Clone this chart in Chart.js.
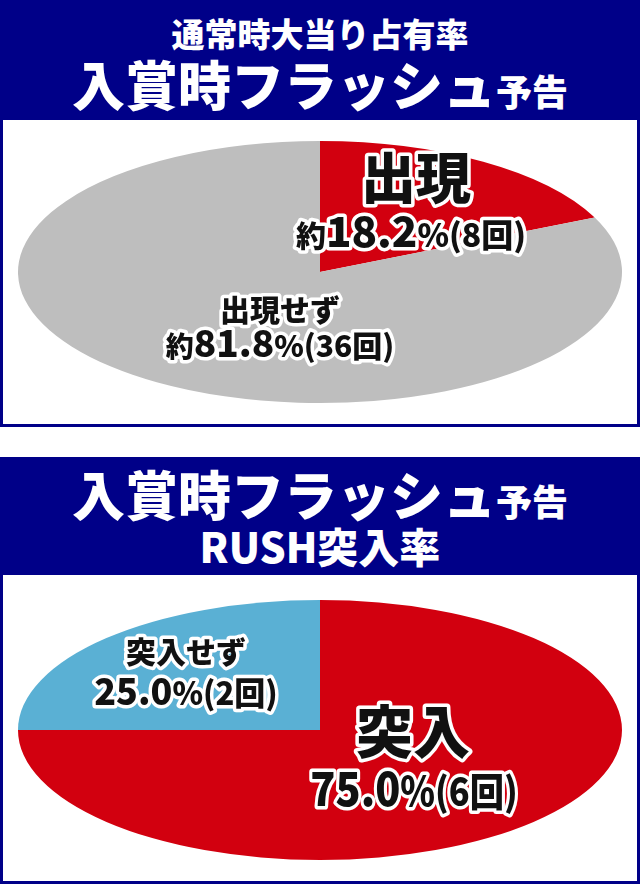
<!DOCTYPE html>
<html><head><meta charset="utf-8">
<script src="https://cdn.jsdelivr.net/npm/chart.js@4.4.1/dist/chart.umd.min.js"></script>
<style>
html,body{margin:0;padding:0;background:#fff;}
body{width:640px;height:884px;position:relative;overflow:hidden;font-family:"Noto Sans CJK JP","Noto Sans",sans-serif;}
.hdr{position:absolute;left:0;width:640px;background:#000088;}
.box{position:absolute;left:0;width:640px;box-sizing:border-box;border:3px solid #000088;border-top:none;background:#fff;}
.line{position:absolute;left:0;width:640px;text-align:center;white-space:nowrap;line-height:1;color:#fff;font-weight:900;}
canvas{position:absolute;left:0;}
</style></head>
<body>
<div class="hdr" style="top:0;height:120px"></div>
<div class="line" style="top:17px;font-size:33px">通常時大当り占有率</div>
<div class="line" style="top:57px;font-size:53px">入賞時フラッシュ<span style="font-size:36px">予告</span></div>
<div class="box" style="top:120px;height:307px"></div>
<canvas id="c1" width="640" height="307" style="top:120px"></canvas>

<div class="hdr" style="top:457px;height:118px"></div>
<div class="line" style="top:467px;font-size:53px">入賞時フラッシュ<span style="font-size:36px">予告</span></div>
<div class="line" style="top:525px;font-size:41px">RUSH突入率</div>
<div class="box" style="top:575px;height:309px"></div>
<canvas id="c2" width="640" height="309" style="top:575px"></canvas>

<script>
// ---- data ----
const categories1 = ['出現', '出現せず'];
const counts1 = [8, 36];
const colors1 = ['#D2000F', '#BEBEBE'];

const categories2 = ['突入', '突入せず'];
const counts2 = [6, 2];
const colors2 = ['#D2000F', '#5AB0D4'];

const unit = '回';

function pct(values, i) {
  const s = values.reduce((a, b) => a + b, 0);
  return (values[i] / s * 100).toFixed(1);
}

const FONT = '"Noto Sans CJK JP","Noto Sans",sans-serif';

const ellipsePlugin = {
  id: 'ellipse',
  beforeDatasetsDraw(chart, args, opts) {
    const arc = chart.getDatasetMeta(0).data[0];
    const cx = arc.x, cy = arc.y, r = arc.outerRadius;
    const ctx = chart.ctx;
    ctx.save();
    ctx.translate(cx, cy);
    ctx.scale(opts.rx / r, 1);
    ctx.translate(-cx, -cy);
  },
  afterDatasetsDraw(chart) { chart.ctx.restore(); }
};

const labelPlugin = {
  id: 'labels',
  afterDraw(chart, args, opts) {
    const ctx = chart.ctx;
    const top = opts.offset;
    ctx.save();
    ctx.textBaseline = 'alphabetic';
    ctx.lineJoin = 'round';
    const laid = opts.lines.map(ln => {
      let w = 0;
      const parts = ln.runs.map(r => {
        ctx.font = '900 ' + r.s + 'px ' + FONT;
        const m = ctx.measureText(r.t).width;
        const p = { t: r.t, s: r.s, w: m };
        w += m;
        return p;
      });
      return { ln, parts, w };
    });
    ['stroke', 'fill'].forEach(mode => {
      laid.forEach(({ ln, parts, w }) => {
        const k = ln.k || 1;
        ctx.save();
        ctx.translate(ln.x, ln.y - top);
        ctx.scale(k, 1);
        let x = -w / 2;
        parts.forEach(p => {
          ctx.font = '900 ' + p.s + 'px ' + FONT;
          if (mode === 'stroke') {
            ctx.strokeStyle = '#fff';
            ctx.lineWidth = 7;
            ctx.strokeText(p.t, x, 0);
          } else {
            ctx.fillStyle = '#111';
            ctx.fillText(p.t, x, 0);
          }
          x += p.w;
        });
        ctx.restore();
      });
    });
    ctx.restore();
  }
};

function makeChart(id, cats, vals, cols, pad, rx, lines, offset) {
  return new Chart(document.getElementById(id), {
    type: 'pie',
    data: { labels: cats, datasets: [{ data: vals, backgroundColor: cols, borderWidth: 0 }] },
    options: {
      responsive: false,
      animation: false,
      events: [],
      layout: { padding: pad },
      plugins: {
        legend: { display: false },
        tooltip: { enabled: false },
        ellipse: { rx: rx },
        labels: { lines: lines, offset: offset }
      }
    },
    plugins: [ellipsePlugin, labelPlugin]
  });
}

const lines1 = [
  { x: 416, y: 198, runs: [{ t: categories1[0], s: 55 }] },
  { x: 411, y: 247, runs: [{ t: '約', s: 30 }, { t: pct(counts1, 0), s: 42 }, { t: '%', s: 32 }, { t: '(' + counts1[0] + unit + ')', s: 32 }] },
  { x: 280, y: 321, runs: [{ t: categories1[1], s: 30 }] },
  { x: 280, y: 357, runs: [{ t: '約', s: 28 }, { t: pct(counts1, 1), s: 37 }, { t: '%', s: 30 }, { t: '(' + counts1[1] + unit + ')', s: 30 }] }
];
const lines2 = [
  { x: 186, y: 663, runs: [{ t: categories2[1], s: 30 }] },
  { x: 186, y: 705, runs: [{ t: pct(counts2, 1), s: 37 }, { t: '%', s: 32 }, { t: '(' + counts2[1] + unit + ')', s: 32 }], k: 0.97 },
  { x: 413, y: 753, runs: [{ t: categories2[0], s: 57 }] },
  { x: 414, y: 806, runs: [{ t: pct(counts2, 0), s: 47 }, { t: '%', s: 40 }, { t: '(' + counts2[0] + unit + ')', s: 39 }], k: 0.88 }
];

const fontsReady = Promise.all([
  document.fonts.load('900 40px "Noto Sans CJK JP"', '出現約18回'),
  document.fonts.load('700 40px "Noto Sans CJK JP"', '入賞時')
]).catch(() => {});
fontsReady.then(() => {
  makeChart('c1', categories1, counts1, colors1, { top: 21, bottom: 24, left: 0, right: 0 }, 302, lines1, 120);
  makeChart('c2', categories2, counts2, colors2, { top: 25, bottom: 24, left: 0, right: 0 }, 302, lines2, 575);
});
</script>
</body></html>
